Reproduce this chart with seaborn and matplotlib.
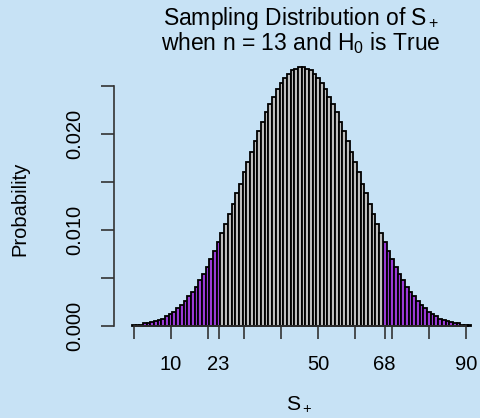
import numpy as np
import pandas as pd
import matplotlib
matplotlib.use("Agg")
import matplotlib.pyplot as plt
import seaborn as sns

# Null distribution of S+ for n = 13 (counts out of 2^13 sign assignments)
s_values = list(range(0, 92))
counts = [1, 1, 1, 2, 2, 3, 4, 5, 6, 8, 10, 12, 15, 18, 21, 25, 29, 33, 39, 44,
          50, 57, 64, 71, 79, 87, 95, 104, 113, 121, 131, 140, 148, 158, 166, 174,
          182, 189, 195, 202, 207, 211, 215, 218, 219, 221,
          221, 219, 218, 215, 211, 207, 202, 195, 189, 182, 174, 166, 158, 148,
          140, 131, 121, 113, 104, 95, 87, 79, 71, 64, 57, 50, 44, 39, 33, 29,
          25, 21, 18, 15, 12, 10, 8, 6, 5, 4, 3, 2, 2, 1, 1, 1]
total = 8192
lower_cut = 23
upper_cut = 68
x_ticks = [0, 10, 20, 23, 30, 40, 50, 60, 68, 70, 80, 90]
x_labels = ["", "10", "", "23", "", "", "50", "", "68", "", "", "90"]
y_ticks = [0.000, 0.005, 0.010, 0.015, 0.020, 0.025]
y_labels = ["0.000", "", "0.010", "", "0.020", ""]

prob = [c / total for c in counts]
tail = ["tail" if (s <= lower_cut or s >= upper_cut) else "mid" for s in s_values]
df = pd.DataFrame({"s": s_values, "p": prob, "tail": tail})

bg = "#C7E2F5"
axc = "#333333"
fs = 14.5
sns.set_theme(style="white")
plt.rcParams["font.family"] = ["Liberation Sans", "DejaVu Sans"]
plt.rcParams["mathtext.fontset"] = "custom"
plt.rcParams["mathtext.rm"] = "Liberation Sans"
plt.rcParams["mathtext.it"] = "Liberation Sans"
plt.rcParams["mathtext.bf"] = "Liberation Sans:bold"
plt.rcParams["text.color"] = "black"

fig = plt.figure(figsize=(4.8, 4.18), dpi=100, facecolor=bg)
ax = fig.add_axes([114.3 / 480, (418 - 330) / 418, 1 - 114.3 / 480, (330 - 60) / 418])
ax.set_facecolor(bg)

sns.barplot(data=df, x="s", y="p", hue="tail",
            palette={"tail": "#A020F0", "mid": "#BEBEBE"},
            dodge=False, native_scale=True, width=1.0,
            edgecolor="black", linewidth=1.3, legend=False, ax=ax,
            errorbar=None)

ax.set_xlim(-5.27, -5.27 + (480 - 114.3) / 3.69)
ax.set_ylim(-4.3 / 9600, 265.7 / 9600)

for side in ["top", "right"]:
    ax.spines[side].set_visible(False)
ax.spines["left"].set_bounds(0, 0.025)
ax.spines["left"].set_color(axc)
ax.spines["left"].set_linewidth(1.2)
ax.spines["bottom"].set_position(("data", 0))
ax.spines["bottom"].set_bounds(0, 90)
ax.spines["bottom"].set_color(axc)
ax.spines["bottom"].set_linewidth(1.2)

ax.set_xticks(x_ticks)
ax.set_xticklabels(x_labels)
ax.set_yticks(y_ticks)
ax.set_yticklabels(y_labels, rotation=90, va="center")
ax.tick_params(axis="both", direction="out", length=9.2, width=1.2,
               color=axc, labelsize=fs, labelcolor="black",
               bottom=True, left=True)
ax.tick_params(axis="x", pad=12.0)
ax.tick_params(axis="y", pad=12.5)
ax.set_xlabel("")
ax.set_ylabel("")

fig.text(20 / 480, 1 - 209 / 418, "Probability", rotation=90,
         ha="center", va="center", fontsize=fs, color="black")
fig.text(299 / 480, 1 - 404 / 418, r"$S_+$", ha="center", va="center",
         fontsize=fs * 1.05, color="black")
fig.text(301 / 480, 1 - 25.5 / 418, r"Sampling Distribution of $S_+$",
         ha="center", va="baseline", fontsize=16.5, color="black")
fig.text(301 / 480, 1 - 50 / 418, r"when n = 13 and $H_0$ is True",
         ha="center", va="baseline", fontsize=16.5, color="black")

fig.savefig("out.png", dpi=100, facecolor=bg)
